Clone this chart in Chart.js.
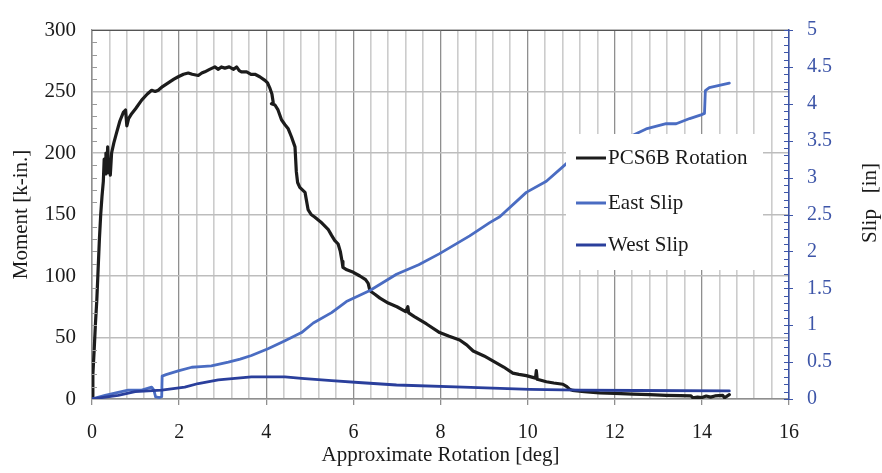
<!DOCTYPE html>
<html>
<head>
<meta charset="utf-8">
<script src="https://cdn.jsdelivr.net/npm/chart.js@4"></script>
<style>
  html, body { margin: 0; padding: 0; background: #fff; }
  #wrap { width: 882px; height: 473px; }
</style>
</head>
<body>
<div id="wrap"><canvas id="chart" width="882" height="473"></canvas></div>
<script>
// PCS6B moment vs rotation (left axis, k-in.)
const pcsRot = [0, 0.02, 0.05, 0.08, 0.11, 0.14, 0.17, 0.2, 0.23, 0.26, 0.28, 0.3, 0.32, 0.34, 0.36, 0.38, 0.4, 0.42, 0.45, 0.5,
  0.56, 0.64, 0.72, 0.77, 0.8, 0.84, 0.91, 1.0, 1.14, 1.27, 1.37, 1.45, 1.52, 1.62, 1.75, 1.88, 1.98, 2.1, 2.21, 2.3,
  2.44, 2.52, 2.59, 2.7, 2.82, 2.9, 2.97, 3.05, 3.15, 3.25, 3.32, 3.38, 3.43, 3.55, 3.65, 3.74, 3.85, 3.97, 4.03, 4.08,
  4.13, 4.16, 4.12, 4.2, 4.27, 4.35, 4.43, 4.5, 4.58, 4.66, 4.69, 4.72, 4.77, 4.83, 4.89, 4.96, 5.03, 5.11, 5.25, 5.42,
  5.5, 5.57, 5.65, 5.7, 5.74, 5.76, 5.85, 6.0, 6.15, 6.28, 6.34, 6.38, 6.5, 6.61, 6.8, 7.0, 7.2, 7.25, 7.27, 7.4,
  7.68, 7.98, 8.2, 8.44, 8.6, 8.75, 9.0, 9.2, 9.45, 9.66, 9.8, 9.97, 10.18, 10.2, 10.22, 10.43, 10.6, 10.81, 10.9, 10.96,
  11.03, 11.3, 11.65, 12.0, 12.42, 12.8, 13.18, 13.5, 13.75, 13.79, 13.9, 14.0, 14.1, 14.2, 14.3, 14.48, 14.52, 14.63];
const pcsMoment = [0, 20, 40, 62, 80, 105, 130, 150, 165, 177, 195, 183, 200, 186, 205, 184, 193, 182, 200, 208,
  216, 226, 233, 235, 222, 228, 232, 236, 243, 248, 251, 250, 251, 254, 257, 260, 262, 264, 265, 264,
  263, 265, 266, 268, 270, 268, 270, 269, 270, 268, 270, 267, 266, 266, 264, 264, 262, 259, 257, 253,
  248, 241, 240, 239, 235, 227, 223, 220, 213, 205, 185, 176, 172, 170, 168, 154, 150, 148, 144, 138,
  133, 129, 126, 120, 112, 107, 105, 103, 100, 97, 94, 88, 85, 82, 78, 75, 71, 75, 70, 67,
  61, 54, 51, 48, 44, 39, 35, 31, 26, 21, 20, 19, 17, 23, 16, 14, 13, 12, 10, 8,
  7, 6, 5, 4.5, 4, 3.5, 3, 2.8, 2.5, 1, 1.5, 1.2, 2.4, 1.5, 2.5, 3, 1, 3.5];

// East slip (right axis, in)
const eastRot = [0, 0.3, 0.6, 0.83, 1.14, 1.37, 1.42, 1.46, 1.55, 1.6, 1.61, 1.7, 1.98, 2.29, 2.5, 2.74, 3.13, 3.4, 3.66, 4.04,
  4.43, 4.81, 5.08, 5.5, 5.84, 6.38, 6.99, 7.5, 7.98, 8.67, 9.13, 9.36, 9.97, 10.43, 10.89, 11.2, 11.5, 11.88, 12.26, 12.72,
  13.18, 13.41, 13.72, 13.98, 14.06, 14.08, 14.17, 14.63];
const eastSlip = [0, 0.05, 0.09, 0.12, 0.12, 0.16, 0.12, 0.03, 0.02, 0.03, 0.31, 0.33, 0.38, 0.43, 0.44, 0.45, 0.50, 0.54, 0.59, 0.68,
  0.79, 0.90, 1.03, 1.17, 1.32, 1.47, 1.69, 1.82, 1.97, 2.21, 2.39, 2.47, 2.80, 2.95, 3.19, 3.35, 3.48, 3.52, 3.53, 3.66,
  3.73, 3.73, 3.80, 3.85, 3.87, 4.18, 4.22, 4.28];

// West slip (right axis, in)
const westRot = [0, 0.6, 0.99, 1.6, 2.13, 2.44, 2.9, 3.28, 3.66, 4.43, 4.81, 5.5, 6.2, 6.99, 8.52, 10.05, 11.19, 12.5, 14.63];
const westSlip = [0, 0.05, 0.10, 0.12, 0.16, 0.21, 0.26, 0.28, 0.30, 0.30, 0.28, 0.25, 0.22, 0.19, 0.16, 0.13, 0.12, 0.115, 0.11];

const seriesNames = ['PCS6B Rotation', 'East Slip', 'West Slip'];
const seriesColors = ['#1c1c1c', '#4a6cc2', '#2a3f9c'];
const axisBlue = '#3d55a8';
const FONT = "'Liberation Serif', 'Times New Roman', serif";

function toPoints(xs, ys) {
  return xs.map((x, i) => ({ x: x, y: ys[i] }));
}

function isMultiple(v, step) {
  return Math.abs(v / step - Math.round(v / step)) < 1e-6;
}

/**
 * Minor ticks, top border, right-hand title and the boxed legend
 */
const extrasPlugin = {
  id: 'extras',
  afterDraw(chart) {
    const ctx = chart.ctx;
    const area = chart.chartArea;
    const yL = chart.scales.y;
    const yR = chart.scales.y1;
    ctx.save();

    // top frame line
    ctx.strokeStyle = '#555';
    ctx.lineWidth = 1;
    ctx.beginPath();
    ctx.moveTo(area.left, area.top + 0.5);
    ctx.lineTo(area.right, area.top + 0.5);
    ctx.stroke();

    // left minor ticks every 10
    ctx.strokeStyle = '#999';
    for (let v = 10; v < 300; v += 10) {
      if (v % 50 === 0) continue;
      const py = Math.round(yL.getPixelForValue(v)) + 0.5;
      ctx.beginPath();
      ctx.moveTo(area.left, py);
      ctx.lineTo(area.left + 5, py);
      ctx.stroke();
    }

    // right minor / major ticks every 0.1
    ctx.strokeStyle = axisBlue;
    for (let i = 0; i <= 50; i++) {
      const py = Math.round(yR.getPixelForValue(i / 10)) + 0.5;
      ctx.beginPath();
      ctx.moveTo(area.right - 5, py);
      ctx.lineTo(area.right + (i % 5 === 0 ? 4 : 0), py);
      ctx.stroke();
    }

    // right axis title, reads bottom to top
    ctx.fillStyle = '#1a1a1a';
    ctx.font = '21px ' + FONT;
    ctx.textAlign = 'center';
    ctx.textBaseline = 'middle';
    ctx.translate(870, 203);
    ctx.rotate(-Math.PI / 2);
    ctx.fillText('Slip   [in]', 0, 0);
    ctx.setTransform(1, 0, 0, 1, 0, 0);

    // legend box
    const bx = 566, by = 134, bw = 197, bh = 136;
    ctx.fillStyle = '#fff';
    ctx.fillRect(bx, by, bw, bh);
    ctx.font = '21px ' + FONT;
    ctx.textAlign = 'left';
    ctx.textBaseline = 'middle';
    const rows = [158, 203, 245];
    chart.data.datasets.forEach((ds, i) => {
      ctx.strokeStyle = ds.borderColor;
      ctx.lineWidth = 3;
      ctx.beginPath();
      ctx.moveTo(576, rows[i]);
      ctx.lineTo(606, rows[i]);
      ctx.stroke();
      ctx.fillStyle = '#1a1a1a';
      ctx.fillText(ds.label, 608, rows[i]);
    });
    ctx.restore();
  }
};

const canvas = document.getElementById('chart');

new Chart(canvas, {
  type: 'line',
  data: {
    datasets: [
      {
        label: seriesNames[0],
        data: toPoints(pcsRot, pcsMoment),
        borderColor: seriesColors[0],
        borderWidth: 3.2,
        yAxisID: 'y',
        order: 3
      },
      {
        label: seriesNames[1],
        data: toPoints(eastRot, eastSlip),
        borderColor: seriesColors[1],
        borderWidth: 2.8,
        yAxisID: 'y1',
        order: 2
      },
      {
        label: seriesNames[2],
        data: toPoints(westRot, westSlip),
        borderColor: seriesColors[2],
        borderWidth: 2.8,
        yAxisID: 'y1',
        order: 1
      }
    ]
  },
  options: {
    responsive: false,
    animation: false,
    layout: { padding: { top: 17, left: 0, right: 0, bottom: 0 } },
    elements: {
      point: { radius: 0 },
      line: { tension: 0, borderJoinStyle: 'round', borderCapStyle: 'round' }
    },
    plugins: {
      legend: { display: false },
      tooltip: { enabled: false }
    },
    scales: {
      x: {
        type: 'linear',
        min: 0,
        max: 16,
        afterFit: s => { s.height = 74; },
        ticks: {
          stepSize: 0.4,
          autoSkip: false,
          maxRotation: 0,
          padding: 16,
          color: '#1a1a1a',
          font: { family: FONT, size: 20 },
          callback: v => isMultiple(v, 2) ? String(Math.round(v)) : ''
        },
        grid: {
          color: c => isMultiple(c.tick.value, 2) ? '#8f8f8f' : '#cccccc',
          lineWidth: c => isMultiple(c.tick.value, 2) ? 1.3 : 1.6,
          tickLength: 6,
          tickColor: c => isMultiple(c.tick.value, 2) ? '#8f8f8f' : 'rgba(0,0,0,0)'
        },
        border: { color: '#8f8f8f', width: 1.5 },
        title: {
          display: true,
          text: 'Approximate Rotation [deg]',
          color: '#1a1a1a',
          font: { family: FONT, size: 21 },
          padding: { top: 0, bottom: 5 }
        }
      },
      y: {
        type: 'linear',
        position: 'left',
        min: 0,
        max: 300,
        afterFit: s => { s.width = 92; },
        ticks: {
          stepSize: 50,
          padding: 16,
          color: '#1a1a1a',
          font: { family: FONT, size: 21 }
        },
        grid: { color: '#bdbdbd', lineWidth: 1.5, drawTicks: false },
        border: { color: '#8f8f8f', width: 1.5 },
        title: {
          display: true,
          text: 'Moment [k-in.]',
          color: '#1a1a1a',
          font: { family: FONT, size: 21 },
          padding: { top: 9, bottom: 0 }
        }
      },
      y1: {
        type: 'linear',
        position: 'right',
        min: 0,
        max: 5,
        afterFit: s => { s.width = 93; },
        ticks: {
          stepSize: 0.5,
          padding: 18,
          color: axisBlue,
          font: { family: FONT, size: 20 },
          callback: v => String(Math.round(v * 10) / 10)
        },
        grid: { drawOnChartArea: false, drawTicks: false },
        border: { color: axisBlue, width: 1.5 }
      }
    }
  },
  plugins: [extrasPlugin]
});
</script>
</body>
</html>
